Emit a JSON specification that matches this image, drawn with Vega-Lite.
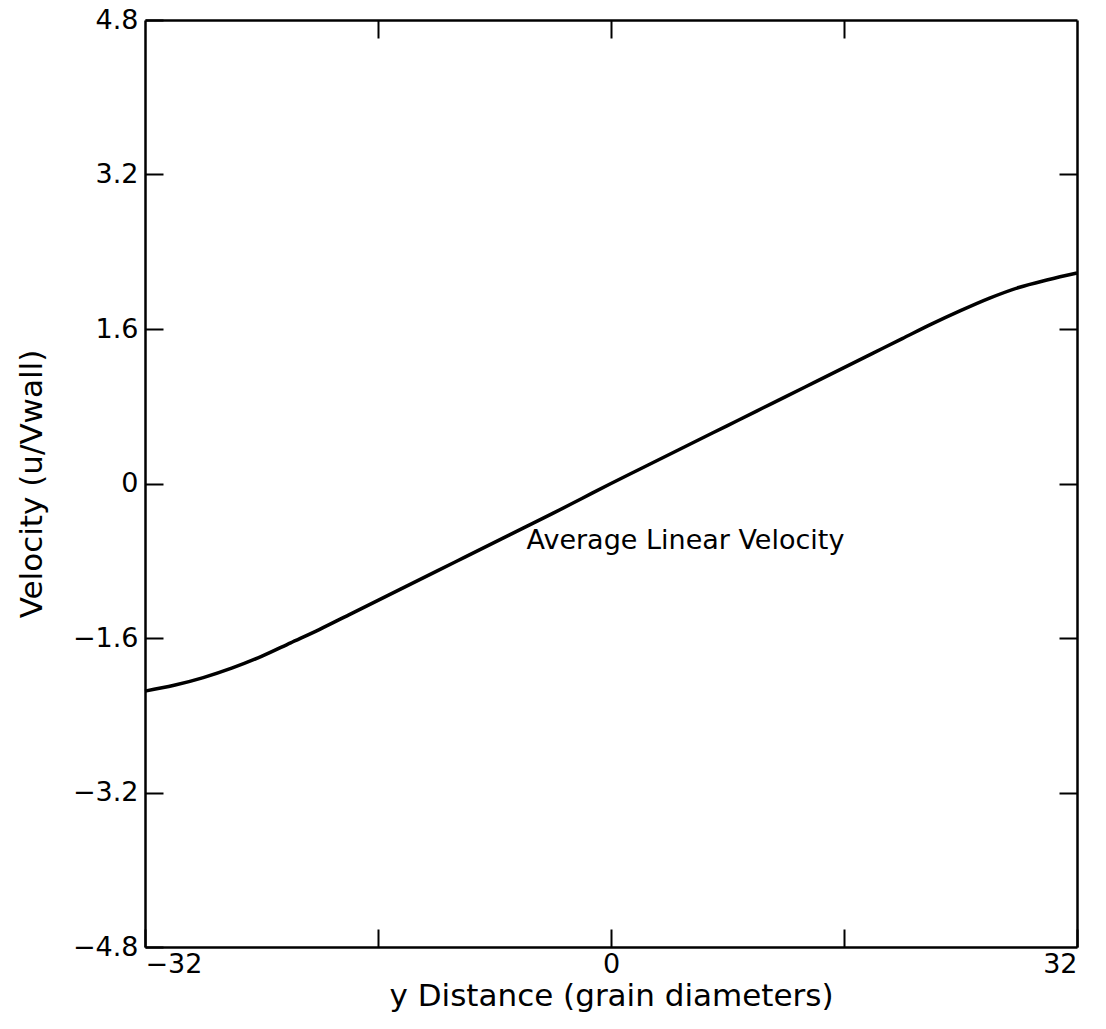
{
  "$schema": "https://vega.github.io/schema/vega-lite/v6.json",
  "width": 932,
  "height": 927,
  "autosize": {"type": "none"},
  "padding": {"left": 145, "top": 20, "right": 29, "bottom": 82},
  "background": "white",
  "config": {
    "view": {"stroke": null},
    "font": "DejaVu Sans",
    "axis": {
      "domainColor": "black",
      "domainWidth": 2.5,
      "tickColor": "black",
      "tickWidth": 2,
      "tickSize": -18,
      "labelColor": "black",
      "labelFont": "DejaVu Sans",
      "labelFontSize": 27,
      "titleColor": "black",
      "titleFont": "DejaVu Sans",
      "titleFontSize": 31,
      "titleFontWeight": "normal",
      "grid": false
    }
  },
  "data": {
    "values": [
      {"yd": -32, "v": -2.15},
      {"yd": -30, "v": -2.09},
      {"yd": -28, "v": -2.01},
      {"yd": -26, "v": -1.91},
      {"yd": -24, "v": -1.79},
      {"yd": -22, "v": -1.65},
      {"yd": -20, "v": -1.51},
      {"yd": -18, "v": -1.36},
      {"yd": -16, "v": -1.21},
      {"yd": -14, "v": -1.06},
      {"yd": -12, "v": -0.91},
      {"yd": -10, "v": -0.76},
      {"yd": -8, "v": -0.61},
      {"yd": -6, "v": -0.46},
      {"yd": -4, "v": -0.31},
      {"yd": -2, "v": -0.155},
      {"yd": 0, "v": 0},
      {"yd": 2, "v": 0.15},
      {"yd": 4, "v": 0.3},
      {"yd": 6, "v": 0.45},
      {"yd": 8, "v": 0.6},
      {"yd": 10, "v": 0.75},
      {"yd": 12, "v": 0.9},
      {"yd": 14, "v": 1.05},
      {"yd": 16, "v": 1.2},
      {"yd": 18, "v": 1.35},
      {"yd": 20, "v": 1.5},
      {"yd": 22, "v": 1.65},
      {"yd": 24, "v": 1.79},
      {"yd": 26, "v": 1.92},
      {"yd": 28, "v": 2.03},
      {"yd": 30, "v": 2.11},
      {"yd": 32, "v": 2.18}
    ]
  },
  "layer": [
    {
      "mark": {"type": "line", "color": "black", "strokeWidth": 3.5, "interpolate": "monotone"},
      "encoding": {
        "x": {
          "field": "yd", "type": "quantitative",
          "scale": {"domain": [-32, 32], "nice": false, "zero": false},
          "axis": {
            "orient": "bottom",
            "values": [-32, -16, 0, 16, 32],
            "labelExpr": "datum.value % 32 == 0 ? format(datum.value, 'd') : ''",
            "labelPadding": 22,
            "title": "y Distance (grain diameters)",
            "titlePadding": 4
          }
        },
        "y": {
          "field": "v", "type": "quantitative",
          "scale": {"domain": [-4.8, 4.8], "nice": false, "zero": false},
          "axis": {
            "orient": "left",
            "values": [-4.8, -3.2, -1.6, 0, 1.6, 3.2, 4.8],
            "labelExpr": "datum.value == 0 ? '0' : format(datum.value, '.1f')",
            "labelPadding": 25,
            "title": "Velocity (u/Vwall)",
            "titlePadding": 24
          }
        }
      }
    },
    {
      "mark": {"type": "line", "opacity": 0},
      "encoding": {
        "x": {
          "field": "yd", "type": "quantitative",
          "scale": {"domain": [-32, 32], "nice": false, "zero": false},
          "axis": {"orient": "top", "values": [-16, 0, 16], "labels": false, "title": null}
        },
        "y": {
          "field": "v", "type": "quantitative",
          "scale": {"domain": [-4.8, 4.8], "nice": false, "zero": false},
          "axis": {"orient": "right", "values": [-3.2, -1.6, 0, 1.6, 3.2], "labels": false, "title": null}
        }
      }
    },
    {
      "data": {"values": [{"x": -5.8, "y": -0.6, "label": "Average Linear Velocity"}]},
      "mark": {"type": "text", "align": "left", "baseline": "middle", "fontSize": 27, "font": "DejaVu Sans", "color": "black"},
      "encoding": {
        "x": {"field": "x", "type": "quantitative", "axis": null},
        "y": {"field": "y", "type": "quantitative", "axis": null},
        "text": {"field": "label"}
      }
    }
  ],
  "resolve": {"axis": {"x": "independent", "y": "independent"}}
}
